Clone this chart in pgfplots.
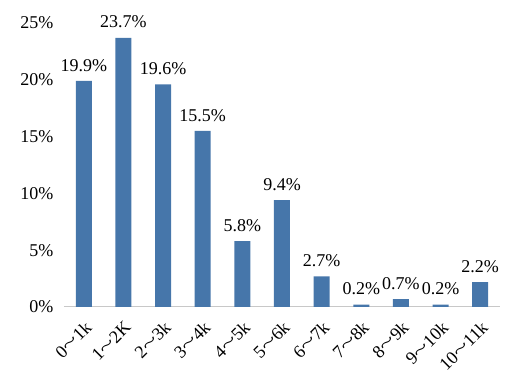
\documentclass[border=0pt]{standalone}
\usepackage{graphicx}
\usepackage{pgfplots}
\pgfplotsset{compat=1.18}
\usepackage{fontspec}
\setmainfont{Liberation Serif}
\definecolor{barblue}{RGB}{70,118,170}
\definecolor{axisgray}{RGB}{200,200,200}
\newcommand{\tl}{\scalebox{1.6}[1]{\textasciitilde}}
\begin{document}
\begin{tikzpicture}
\useasboundingbox (-64pt,-80pt) rectangle (459pt,307pt);
\begin{axis}[
  at={(0,0)}, anchor=south west,
  scale only axis,
  width=436pt, height=284pt,
  xmin=-0.5, xmax=10.5,
  ymin=0, ymax=25,
  ytick={0,5,10,15,20,25},
  yticklabel={\pgfmathprintnumber{\tick}\%},
  xtick={0,...,10},
  xticklabels={0\tl1k,1\tl2K,2\tl3k,3\tl4k,4\tl5k,5\tl6k,6\tl7k,7\tl8k,8\tl9k,9\tl10k,10\tl11k},
  xticklabel style={xshift=0pt, yshift=-13pt, rotate=45, anchor=north east, inner sep=0pt},
  yticklabel style={xshift=-7pt},
  major tick length=0pt,
  separate axis lines,
  axis lines=left,
  axis line style={-},
  x axis line style={draw=axisgray, line width=1pt},
  y axis line style={draw=none},
  /pgf/number format/assume math mode=true,
  ticklabel style={font=\fontsize{18}{20}\selectfont},
  ybar, bar width=16pt,
  nodes near coords={\pgfmathprintnumber[fixed,fixed zerofill,precision=1]{\pgfplotspointmeta}\%},
  nodes near coords style={font=\fontsize{18}{20}\selectfont, yshift=6pt},
  clip=false,
]
\addplot[fill=barblue, draw=none] coordinates {
(0,19.9) (1,23.7) (2,19.6) (3,15.5) (4,5.8) (5,9.4) (6,2.7) (7,0.2) (8,0.7) (9,0.2) (10,2.2)
};
\end{axis}
\end{tikzpicture}
\end{document}
